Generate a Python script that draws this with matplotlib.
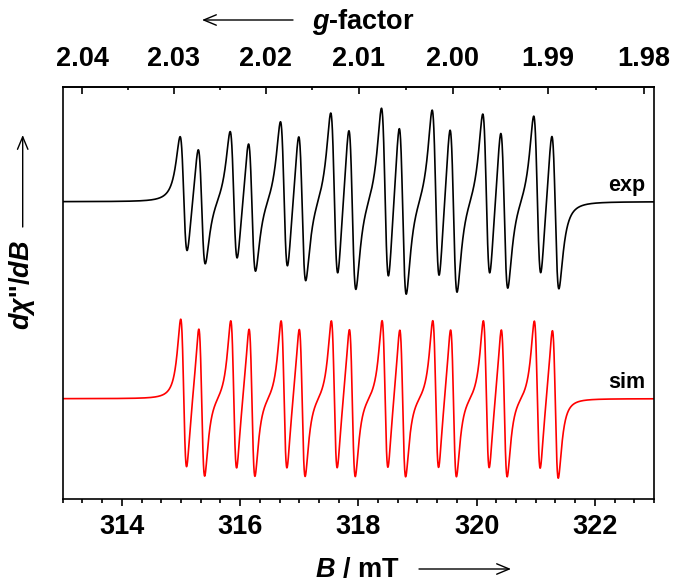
import numpy as np
import matplotlib
matplotlib.use("Agg")
import matplotlib.pyplot as plt
from matplotlib.ticker import MultipleLocator, AutoMinorLocator, NullLocator

plt.rcParams['font.family'] = ['Liberation Sans', 'DejaVu Sans']
plt.rcParams['font.weight'] = 'bold'
plt.rcParams['mathtext.fontset'] = 'custom'
plt.rcParams['mathtext.rm'] = 'Liberation Sans:bold'
plt.rcParams['mathtext.bf'] = 'Liberation Sans:bold'
plt.rcParams['mathtext.it'] = 'Liberation Sans:italic:bold'
plt.rcParams['mathtext.bfit'] = 'Liberation Sans:italic:bold'

# hyperfine line positions (mT)
line_pos = [315.046, 315.351, 315.892, 316.201, 316.743, 317.050, 317.593, 317.898,
            318.451, 318.750, 319.308, 319.609, 320.164, 320.467, 321.026, 321.331]
# peak-to-peak amplitudes of each line (arb. units)
exp_amp = [121, 122, 135, 136, 154, 154, 171, 170, 180, 178, 177, 174, 170, 166, 167, 162]
sim_amp = [152, 152, 152, 152, 152, 152, 152, 152, 152, 152, 152, 152, 152, 152, 152, 152]
# peak-to-peak linewidths (mT)
exp_dpp = 0.123
sim_dpp = 0.101

g_major = [2.04, 2.03, 2.02, 2.01, 2.00, 1.99, 1.98]
g_minor = [2.035, 2.025, 2.015, 2.005, 1.995, 1.985]
gB = 639.2  # g * B (mT) at the microwave frequency used


def lorentz_deriv(B, B0, dpp):
    """First-derivative Lorentzian, normalised to unit peak-to-peak height"""
    gamma = dpp * np.sqrt(3) / 2
    u = (B - B0) / gamma
    return -2 * u / (1 + u**2)**2 / (9 / (4 * np.sqrt(3)))


def spectrum(B, pos, amp, dpp):
    y = np.zeros_like(B)
    for b0, a in zip(pos, amp):
        y += a * lorentz_deriv(B, b0, dpp)
    return y


B = np.linspace(313, 323, 4000)
exp_y = spectrum(B, line_pos, exp_amp, exp_dpp)
sim_y = spectrum(B, line_pos, sim_amp, sim_dpp)

W, H = 676, 584
fig = plt.figure(figsize=(W / 100, H / 100), dpi=100)


def fx(px):
    return px / W


def fy(py):
    return 1 - py / H


ax = fig.add_axes([fx(62.7), fy(498.7), fx(654) - fx(62.7), fy(86.7) - fy(498.7)])

exp_offset = 297.0
sim_offset = 100.0
ax.plot(B, exp_y + exp_offset, color='black', lw=1.2)
ax.plot(B, sim_y + sim_offset, color='red', lw=1.2)

ax.set_xlim(313, 323)
ax.set_ylim(0, 412)

for sp in ax.spines.values():
    sp.set_linewidth(1.2)

ax.xaxis.set_major_locator(MultipleLocator(2))
ax.xaxis.set_minor_locator(AutoMinorLocator(6))
ax.yaxis.set_major_locator(NullLocator())
ax.tick_params(axis='x', which='both', direction='out', top=False, width=1.2,
               labelsize=19.5, pad=6)
ax.tick_params(axis='x', which='major', length=5)
ax.tick_params(axis='x', which='minor', length=3)
ax.tick_params(axis='y', which='both', left=False, right=False, labelleft=False)
for lbl in ax.get_xticklabels():
    lbl.set_fontweight('bold')


def to_g(b):
    b = np.asarray(b, dtype=float)
    with np.errstate(divide='ignore'):
        return gB / b


secax = ax.secondary_xaxis('top', functions=(to_g, to_g))
secax.set_xticks(g_major)
secax.set_xticks(g_minor, minor=True)
secax.set_xticklabels([f"{g:.2f}" for g in g_major])
secax.tick_params(axis='x', which='both', direction='in', width=1.2,
                  labelsize=19.5, pad=10.5)
secax.tick_params(axis='x', which='major', length=4.8)
secax.tick_params(axis='x', which='minor', length=2.4)
secax.spines['top'].set_linewidth(1.2)

# curve labels
fig.text(fx(645), fy(190.5), 'exp', ha='right', va='baseline', fontsize=15.5,
         fontweight='bold')
fig.text(fx(645), fy(388.3), 'sim', ha='right', va='baseline', fontsize=15.5,
         fontweight='bold')

# axis titles with direction arrows
fig.text(fx(357), fy(577), r'$\mathbfit{B}$ / mT', ha='center', va='baseline',
         fontsize=19.5, fontweight='bold')
fig.text(fx(363.5), fy(29), r'$\mathbfit{g}$-factor', ha='center', va='baseline',
         fontsize=19.5, fontweight='bold')
fig.text(fx(22), fy(285), r"$\mathbfit{d\chi}$''/$\mathbfit{dB}$", ha='center',
         va='center', rotation=90, fontsize=19.5, fontweight='bold')

arrow = dict(arrowstyle='->, head_length=0.6, head_width=0.25', lw=1.0,
             color='black', mutation_scale=15, shrinkA=0, shrinkB=0)
ax.annotate('', xy=(fx(511), fy(569)), xytext=(fx(419), fy(569)),
            xycoords='figure fraction', textcoords='figure fraction',
            arrowprops=arrow, annotation_clip=False)
ax.annotate('', xy=(fx(202), fy(20)), xytext=(fx(293), fy(20)),
            xycoords='figure fraction', textcoords='figure fraction',
            arrowprops=arrow, annotation_clip=False)
ax.annotate('', xy=(fx(22.7), fy(135)), xytext=(fx(22.7), fy(227)),
            xycoords='figure fraction', textcoords='figure fraction',
            arrowprops=arrow, annotation_clip=False)

fig.savefig('out.png', dpi=100)
